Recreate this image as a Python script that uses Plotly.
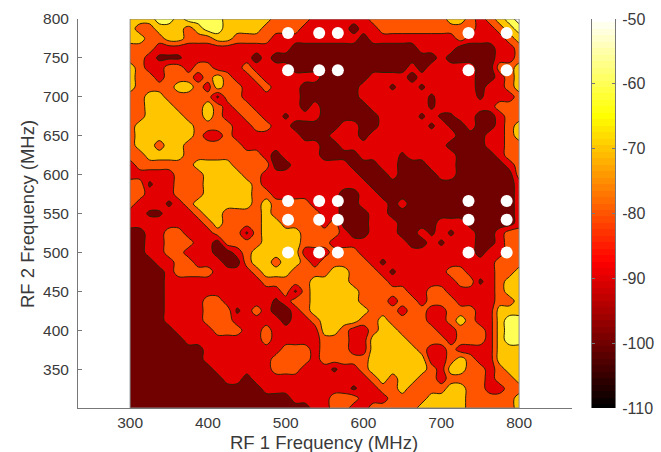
import plotly.graph_objects as go

# RF1 / RF2 sample grid, 12.5 MHz apart
rf1 = [300 + 12.5 * i for i in range(41)]
rf2_desc = [800 - 12.5 * i for i in range(41)]

band = {"M": -100, "m": -97, "R": -90, "O": -80, "G": -70, "P": -60, "W": -50}

# One text row per RF2 value, top (800) to bottom (300); one letter per RF1 value
power_rows = [
    "GGGPPGPPPPGGGGGOOOOR" + "RRRRROOOOOOOOGGOROGPW",
    "GOOGGGOGPPGGGGOOOORR" + "RRRMRROOOOOOOOOORROGP",
    "GGOOGGOOOGGOOOORRRRR" + "RRRRMRRRRRRRRRORRRROG",
    "OOORRRRRRRRRRRRRRMMM" + "MMMMMMMMMMRRRRMMMMRRO",
    "OORmmmRRRRRRRMRMMMMM" + "MMMMMMMMMMMMRMMMMMRRO",
    "GORROOROORRRORRRRMMM" + "MMMMMMMMMRMRRRRRMMOOG",
    "GOOROOOROGORRORRRRRR" + "MMMMMRRRRMRRRRRRMMROG",
    "GOOOOGGORGOORRORRRMM" + "MMMMRRRmRRmRRRRRMRROG",
    "OOGGOOOOOmOORRRRRRMM" + "MMMMRRRRRRRmRRRRmRRRO",
    "OOGGGOOOGOROORRRRRMR" + "MMMMMRRRRRRmRRRRRROOO",
    "OOGGGGOOGORROORRmRRR" + "MMMMMMRRRRmRmmRRMMROO",
    "OGGGGGGOOOORROORRMMM" + "MMRRMMRRRRRmRmMRMMROG",
    "OGGGGGGORRORRRRRRRMM" + "MRRRMRRRRRRRRRMMMRROG",
    "OGGOGGOOOOOORRRRRRRR" + "MMRRRRRRRRRRRMMMMRROO",
    "OOGGGGOOOOOOOORMRRRR" + "MMMMRRRRmRRRRRMMMMROO",
    "ROOOOOOGGGGOOOOMMRRR" + "RRRMMMRRMMMRRRMMMMMRO",
    "RRRRROOOGGGGOORRRRRR" + "RRRRMMMRMMMMRRMMMMMMO",
    "OOmRROOOGGGGGORRRRRR" + "RRRRRMMMMMMMMMMMMMMMR",
    "OORRROOOGGGGGOORRRRR" + "RRMMRRMMMMMMMMMMMMMMR",
    "ORRRmROGGGGGGOGOOOOR" + "RRMMRRRMRMMMMMMMMMMMR",
    "RRmmRRROGGOOOOGOOOOO" + "RRMMMRRMMMMMMMMMMMMMR",
    "RRRRRRRROGOOOOGGOOOO" + "ROMMMRRRMMMMRRRMMMMMR",
    "MMRROORRROOOmOGGGGOO" + "OORMMRRRMMRmRmRRMMROO",
    "MMRROOORRMOOOOGGGGOO" + "ORRRRRRRRMMRmRRRMMROO",
    "MMRROORRRMMROGGGGGRR" + "ROOORRRRRRRRRRRRMRROO",
    "MMMRROORRRMMOGGOGGOR" + "OOOOORmRRRRRRRRRRROOO",
    "MMMMROOOORRRROGGGOOO" + "OGGOOORmRRRRROORRROOG",
    "MMMMRRRRRRRRRROOOOOG" + "GGGOOOORRRRRRROOmROGG",
    "MMMMRRRRRRRRRRRROmOG" + "GGGGOOOOORROORRRRROGG",
    "MMMMRRRROORRRRRmROOG" + "GGGGOOOROOROOORRRROOG",
    "MMMMRRRROOOmRORMMROG" + "GGGGGOOOROORROOORRGGG",
    "MMMMRRRROOORRRRRMRRO" + "GGGGOOGOOOORROGORRGPP",
    "MMMMMRRRROOORRORRRRR" + "GGORROGGOOOORROOORGPP",
    "MMMMMMRRRRRRRRORRRRR" + "OOORRGGGGOOOOROOORGPP",
    "MMMMMMMMRRRRRRRROOOR" + "OOORRGGGGGORRORRRRGGG",
    "MMMMMMMMRRRRRRROOOOR" + "OOOOOGGGGGGRROGORRGGG",
    "MMMMMMMMMRRRRRROOORR" + "RmRROGGGGGGORGGOOROGG",
    "MMMMMMMMMMRRMRRRRRRR" + "RRRRROGOGGOOROOOOROOG",
    "MMMMMMMMMMMMMMRRRRRR" + "RRRmRROOGOOOOGGOORROO",
    "MMMMMMMMMMMMMMMMMRRR" + "ROOORRROOOOGGGGOOOOOG",
    "MMMMMMMMMMMMMMMMMMMR" + "ROORROOOOOGGGGGOOOOOG",
]

dot_rf1 = [503, 543, 567, 735, 784]
dot_rf2 = [500, 542, 566, 734, 782]

x_ticks = [300, 400, 500, 600, 700, 800]
y_ticks = [350, 400, 450, 500, 550, 600, 650, 700, 750, 800]
cb_ticks = [-110, -100, -90, -80, -70, -60, -50]
cb_labels = ["-110", "-100", "-90", "-80", "-70", "-60", "-50"]
cb_levels = list(range(-110, -49))

hot = [[0, "#000000"], [0.375, "#ff0000"], [0.75, "#ffff00"], [1, "#ffffff"]]
W_PX, H_PX = 661, 452
FONT = "Liberation Sans, Arial, sans-serif"
TXT = "#3a3a3a"
AX = "#777777"

z_rows = [[band[c] for c in row] for row in power_rows]
for i, r in enumerate(z_rows):
    if len(r) != 41:
        raise ValueError(f"row {i} has {len(r)}")
dots_x = [x for y in dot_rf2 for x in dot_rf1]
dots_y = [y for y in dot_rf2 for x in dot_rf1]

fig = go.Figure()
fig.add_trace(go.Contour(
    x=rf1, y=rf2_desc, z=z_rows,
    colorscale=hot, showscale=False,
    contours=dict(start=-105, end=-55, size=10, coloring="fill"),
    line=dict(color="#2a2008", width=1, smoothing=1),
    hoverinfo="skip",
))
fig.add_trace(go.Scatter(
    x=dots_x, y=dots_y, mode="markers",
    marker=dict(color="white", size=12, line=dict(width=0)),
    hoverinfo="skip",
))
fig.add_trace(go.Heatmap(
    x=[0], y=cb_levels, z=[[v] for v in cb_levels],
    colorscale=hot, zmin=-110, zmax=-50, showscale=False,
    xaxis="x2", yaxis="y2", hoverinfo="skip",
))

fig.update_layout(
    width=W_PX, height=H_PX, showlegend=False,
    margin=dict(l=0, r=0, t=0, b=0),
    paper_bgcolor="white", plot_bgcolor="white",
    font=dict(family=FONT, size=15, color=TXT),
    xaxis=dict(
        domain=[78 / W_PX, 572 / W_PX], range=[233, 868], automargin=False,
        tickvals=x_ticks, ticks="", showgrid=False, zeroline=False,
        showline=True, linecolor=AX, linewidth=1, anchor="y",
        tickfont=dict(size=15.5), ticklabelstandoff=0,
    ),
    yaxis=dict(
        domain=[1 - 408 / H_PX, 1 - 19 / H_PX], range=[300, 800], automargin=False,
        tickvals=y_ticks, ticks="inside", ticklen=4, tickcolor=AX,
        showgrid=False, zeroline=False, showline=True, linecolor=AX, linewidth=1,
        anchor="x",
        tickfont=dict(size=15.5), ticklabelstandoff=5,
    ),
    xaxis2=dict(
        domain=[592 / W_PX, 615 / W_PX], range=[-0.5, 0.5], visible=False, anchor="y2",
    ),
    yaxis2=dict(
        domain=[1 - 408 / H_PX, 1 - 19 / H_PX], range=[-110, -50], automargin=False,
        side="right", anchor="x2", tickvals=cb_ticks, ticktext=cb_labels,
        ticks="inside", ticklen=3, tickcolor=AX, mirror="ticks",
        showline=True, linecolor=AX, linewidth=1, showgrid=False, zeroline=False,
        tickfont=dict(size=16), ticklabelstandoff=3,
    ),
    annotations=[
        dict(text="RF 1 Frequency (MHz)", xref="paper", yref="paper",
             x=324 / W_PX, y=1 - 442 / H_PX, showarrow=False, xanchor="center", yanchor="middle",
             font=dict(size=18.5, color=TXT)),
        dict(text="RF 2 Frequency (MHz)", xref="paper", yref="paper", textangle=-90,
             x=28 / W_PX, y=1 - 214 / H_PX, showarrow=False, xanchor="center", yanchor="middle",
             font=dict(size=18.5, color=TXT)),
    ],
    shapes=[dict(type="rect", xref="x", yref="y", x0=300, x1=800, y0=300, y1=800,
                 line=dict(color="#888888", width=1), layer="above")],
)
fig.write_html("out.html", config={"displayModeBar": False},
               post_script="document.body.style.margin='0';")
